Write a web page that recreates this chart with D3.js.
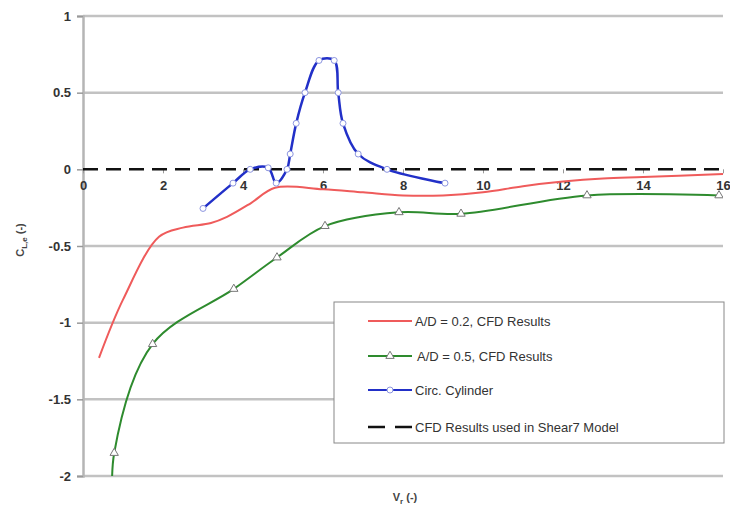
<!DOCTYPE html>
<html>
<head>
<meta charset="utf-8">
<script src="https://cdn.jsdelivr.net/npm/d3@7"></script>
<style>
  body { margin: 0; background: #fff; }
  svg { font-family: "Liberation Sans", Arial, sans-serif; }
  .tick text { font-size: 13px; fill: #333; font-weight: bold; }
  .legend text { font-size: 13px; fill: #333; }
</style>
</head>
<body>
<svg></svg>
<script>
// DATA

let xTicks = [0, 2, 4, 6, 8, 10, 12, 14, 16];
let yTicks = [1, 0.5, 0, -0.5, -1, -1.5, -2];

// A/D = 0.2, CFD results (no markers)
let red02 = [[0.4,-1.23],[1.0,-0.85],[1.9,-0.44],[2.5,-0.38],[3.2,-0.35],[3.6,-0.31],[4.2,-0.22],[4.8,-0.12],
  [6,-0.13],[7,-0.15],[8,-0.17],[9,-0.17],[10,-0.15],[11,-0.11],[12,-0.08],[13,-0.06],[14,-0.05],[16,-0.03]];

// A/D = 0.5, CFD results (triangle markers)
let green05 = [[0.76,-2.3],[0.78,-1.85],[1.74,-1.14],[3.77,-0.78],[4.85,-0.575],[6.05,-0.37],
  [7.9,-0.28],[9.45,-0.29],[12.6,-0.17],[15.9,-0.17]];
let green05Markers = green05.slice(1);

// circular cylinder (circle markers)
let circCyl = [[3.0,-0.255],[3.75,-0.09],[4.18,0.0],[4.63,0.01],[4.83,-0.09],[5.1,0.0],[5.18,0.1],
  [5.33,0.30],[5.55,0.50],[5.9,0.71],[6.28,0.71],[6.38,0.50],[6.5,0.30],[6.88,0.10],[7.6,0.0],[9.05,-0.09]];

// CFD results used in Shear7 model
let shear7 = [[0,0],[16,0]];

let legendLabels = ["A/D = 0.2, CFD Results", "A/D = 0.5, CFD Results", "Circ. Cylinder", "CFD Results used in Shear7 Model"];

// PAGE SETUP

let W = 730, H = 512;
let margin = {top: 16, left: 83, right: 7, bottom: 36};
let width = W - margin.left - margin.right;
let height = H - margin.top - margin.bottom;

let svg = d3.select("svg").attr("width", W).attr("height", H);
let g = svg.append("g").attr("transform", `translate(${margin.left},${margin.top})`);

let x = d3.scaleLinear().domain([0, 16]).range([0, width]);
let y = d3.scaleLinear().domain([-2, 1]).range([height, 0]);

svg.append("clipPath").attr("id", "clip")
  .append("rect").attr("width", width).attr("height", height);

// gridlines
g.selectAll(".grid")
  .data(yTicks.filter(d => d !== 0))
  .enter().append("line")
  .attr("x1", 0).attr("x2", width)
  .attr("y1", d => y(d)).attr("y2", d => y(d))
  .attr("stroke", "#c2c2c2").attr("stroke-width", 2.5);

// plain hyphen minus, like the original
let fmt = d => String(d);

// y axis
let yAxis = g.append("g")
  .call(d3.axisLeft(y).tickValues(yTicks).tickSize(6).tickPadding(6).tickFormat(fmt));
yAxis.select(".domain").attr("stroke", "#b5b5b5").attr("stroke-width", 2.5);
yAxis.selectAll(".tick line").attr("stroke", "#999").attr("stroke-width", 1.5);

// x axis crossing at zero
let xAxis = g.append("g").attr("transform", `translate(0,${y(0)})`)
  .call(d3.axisBottom(x).tickValues(xTicks).tickSize(4).tickPadding(7).tickFormat(fmt));
xAxis.select(".domain").remove();
xAxis.selectAll(".tick line").attr("stroke", "#999");

let plot = g.append("g").attr("clip-path", "url(#clip)");

let smooth = d3.line().x(d => x(d[0])).y(d => y(d[1])).curve(d3.curveCatmullRom.alpha(0.5));

// dashed shear7 line
plot.append("path").datum(shear7)
  .attr("d", d3.line().x(d => x(d[0])).y(d => y(d[1])))
  .attr("fill", "none").attr("stroke", "#111").attr("stroke-width", 2.5)
  .attr("stroke-dasharray", "15,8");

plot.append("path").datum(red02)
  .attr("d", smooth).attr("fill", "none")
  .attr("stroke", "#ef5b5b").attr("stroke-width", 2);

plot.append("path").datum(green05)
  .attr("d", smooth).attr("fill", "none")
  .attr("stroke", "#2e8b2e").attr("stroke-width", 2);

let tri = d3.symbol().type(d3.symbolTriangle).size(30);
plot.selectAll(".tri").data(green05Markers).enter().append("path")
  .attr("d", tri)
  .attr("transform", d => `translate(${x(d[0])},${y(d[1])})`)
  .attr("fill", "#fff").attr("stroke", "#777").attr("stroke-width", 1);

plot.append("path").datum(circCyl)
  .attr("d", smooth).attr("fill", "none")
  .attr("stroke", "#2230c8").attr("stroke-width", 2.5);

plot.selectAll(".circ").data(circCyl).enter().append("circle")
  .attr("cx", d => x(d[0])).attr("cy", d => y(d[1])).attr("r", 3)
  .attr("fill", "#fff").attr("stroke", "#8d96e0").attr("stroke-width", 1);

// axis titles
let yl = svg.append("text")
  .attr("transform", "translate(24,240) rotate(-90)")
  .attr("text-anchor", "middle").attr("font-size", 11).attr("font-weight", "bold").attr("fill", "#444");
yl.append("tspan").text("C");
yl.append("tspan").attr("font-size", 8).attr("dy", 3).text("L,e");
yl.append("tspan").attr("dy", -3).text(" (-)");

let xl = svg.append("text")
  .attr("x", 405).attr("y", 501)
  .attr("text-anchor", "middle").attr("font-size", 11).attr("font-weight", "bold").attr("fill", "#444");
xl.append("tspan").text("V");
xl.append("tspan").attr("font-size", 8).attr("dy", 3).text("r");
xl.append("tspan").attr("dy", -3).text(" (-)");

// LEGEND

let legend = svg.append("g").attr("class", "legend").attr("transform", "translate(334,302)");
legend.append("rect").attr("width", 390).attr("height", 141)
  .attr("fill", "#fff").attr("stroke", "#888").attr("stroke-width", 1);

let rowY = [19, 54, 88, 125];
let legendStyles = [
  {stroke: "#ef5b5b", dash: null, marker: null},
  {stroke: "#2e8b2e", dash: null, marker: "tri"},
  {stroke: "#2230c8", dash: null, marker: "circ"},
  {stroke: "#111", dash: "17,10", marker: null}
];

legendLabels.forEach(function(label, i){
  let row = legend.append("g").attr("transform", `translate(0,${rowY[i]})`);
  let st = legendStyles[i];
  row.append("line").attr("x1", 34).attr("x2", 78)
    .attr("stroke", st.stroke).attr("stroke-width", i === 3 ? 2.5 : 2)
    .attr("stroke-dasharray", st.dash);
  if (st.marker === "tri") {
    row.append("path").attr("d", tri).attr("transform", "translate(56,0)")
      .attr("fill", "#fff").attr("stroke", "#777");
  } else if (st.marker === "circ") {
    row.append("circle").attr("cx", 56).attr("r", 3)
      .attr("fill", "#fff").attr("stroke", "#8d96e0");
  }
  row.append("text").attr("x", i === 1 ? 83 : 81).attr("y", 5).text(label);
});
</script>
</body>
</html>
